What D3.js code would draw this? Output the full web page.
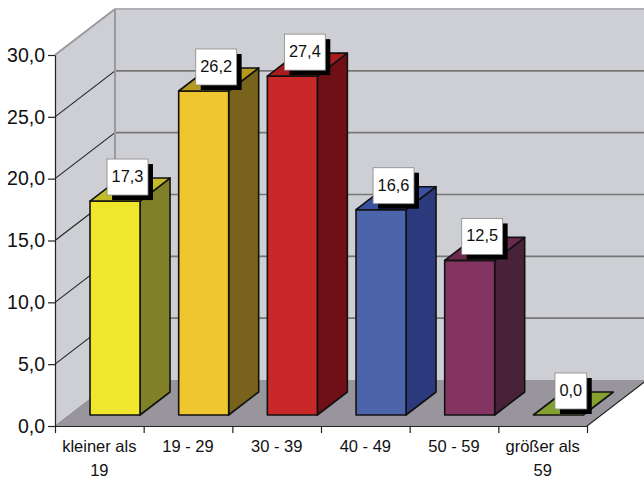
<!DOCTYPE html>
<html>
<head>
<meta charset="utf-8">
<script src="https://cdn.jsdelivr.net/npm/d3@7"></script>
<style>
html,body{margin:0;padding:0;background:#fff;}
svg{display:block;}
text{font-family:"Liberation Sans",Arial,sans-serif;fill:#111;}
</style>
</head>
<body>
<div id="chart"></div>
<script>
// Age-group shares, shown as a 3D column chart
const categories = [["kleiner als","19"],["19 - 29"],["30 - 39"],["40 - 49"],["50 - 59"],["größer als","59"]];
const values = [17.3, 26.2, 27.4, 16.6, 12.5, 0.0];
const frontColors = ["#f0e62c","#f0c630","#c82828","#4c64aa","#843460","#84a030"];
const sideColors = ["#808028","#78621c","#701016","#2a3a7c","#482238","#84a030"];
const topColors = ["#c4bc26","#b89a20","#a81c20","#3a50a0","#6a2a50","#84a030"];
const yTicks = [0,5,10,15,20,25,30];

const W = 644, H = 480;
const x0 = 55, x1 = 587, yBase = 426, yTop = 55;
const wallDx = 60, wallDy = -46;      // depth of the box
const barDx = 30, barDy = -23;        // depth of a column
const barLift = 11;                   // columns stand partway into the floor

const svg = d3.select("#chart").append("svg").attr("width", W).attr("height", H);
const y = d3.scaleLinear().domain([0,30]).range([yBase,yTop]);
const band = d3.scaleBand().domain(d3.range(categories.length)).range([x0,x1]);
const edge = d3.scaleLinear().domain([0,categories.length]).range([x0,x1]);
const barW = 50;
const barOff = band.bandwidth()*0.395;
const comma = v => d3.format(".1f")(v).replace(".", ",");
const poly = pts => pts.map(p => p.join(",")).join(" ");

const wallFill = "#cecfd4", floorFill = "#98969c", edgeGrey = "#9a9a9e";

// side wall, back wall and floor
svg.append("polygon").attr("points", poly([[x0,yBase],[x0,yTop],[x0+wallDx,yTop+wallDy],[x0+wallDx,yBase+wallDy]])).attr("fill", wallFill);
svg.append("polygon").attr("points", poly([[x0+wallDx,yTop+wallDy],[x1+wallDx,yTop+wallDy],[x1+wallDx,yBase+wallDy],[x0+wallDx,yBase+wallDy]])).attr("fill", wallFill);
svg.append("polygon").attr("points", poly([[x0,yBase],[x1,yBase],[x1+wallDx,yBase+wallDy],[x0+wallDx,yBase+wallDy]])).attr("fill", floorFill);

// grid lines across both walls
const grid = svg.append("g");
yTicks.filter(t => t > 0).forEach(t => {
  grid.append("line").attr("x1", x0).attr("y1", y(t)).attr("x2", x0+wallDx).attr("y2", y(t)+wallDy)
    .attr("stroke", t === 30 ? edgeGrey : "#222").attr("stroke-width", t === 30 ? 2 : 1.1);
  grid.append("line").attr("x1", x0+wallDx).attr("y1", y(t)+wallDy).attr("x2", x1+wallDx).attr("y2", y(t)+wallDy)
    .attr("stroke", t === 30 ? "#b0b0b4" : "#777").attr("stroke-width", t === 30 ? 2 : 1.6);
});
grid.append("line").attr("x1", x0+wallDx).attr("y1", yTop+wallDy).attr("x2", x0+wallDx).attr("y2", yBase+wallDy)
  .attr("stroke", edgeGrey).attr("stroke-width", 2);
grid.append("line").attr("x1", x0).attr("y1", yBase).attr("x2", x0+wallDx).attr("y2", yBase+wallDy)
  .attr("stroke", "#8a8a8e").attr("stroke-width", 1);

// columns
const bars = svg.append("g").attr("stroke", "#111").attr("stroke-width", 1.6).attr("stroke-linejoin", "round");
values.forEach((v,i) => {
  const l = band(i)+barOff, r = l+barW, b = yBase-barLift, t = y(v)-barLift;
  const g = bars.append("g");
  if (v > 0) {
    g.append("polygon").attr("points", poly([[r,b],[r,t],[r+barDx,t+barDy],[r+barDx,b+barDy]])).attr("fill", sideColors[i]);
    g.append("rect").attr("x", l).attr("y", t).attr("width", barW).attr("height", b-t).attr("fill", frontColors[i]);
  }
  g.append("polygon").attr("points", poly([[l,t],[r,t],[r+barDx,t+barDy],[l+barDx,t+barDy]])).attr("fill", topColors[i]);
});

// floor edges and axes
svg.append("line").attr("x1", x1).attr("y1", yBase).attr("x2", x1+wallDx).attr("y2", yBase+wallDy).attr("stroke", "#222").attr("stroke-width", 1.1);

const yAxis = svg.append("g").attr("transform", `translate(${x0},0)`)
  .call(d3.axisLeft(y).tickValues(yTicks).tickSize(7).tickSizeOuter(0).tickPadding(3).tickFormat(comma));
yAxis.selectAll("text").attr("font-size", 19.5).style("font-family", '"Liberation Sans",Arial,sans-serif').attr("fill", "#111");
yAxis.selectAll("line,path").attr("stroke", "#222").attr("stroke-width", 1.2);

const xAxis = svg.append("g").attr("transform", `translate(0,${yBase})`)
  .call(d3.axisBottom(edge).tickValues(d3.range(categories.length+1)).tickSize(7).tickSizeOuter(0).tickFormat(""));
xAxis.selectAll("line,path").attr("stroke", "#222").attr("stroke-width", 1.2);

// category labels, wrapped on two lines where needed
const catLabels = svg.append("g").attr("text-anchor", "middle").attr("font-size", 16.5);
categories.forEach((lines,i) => {
  lines.forEach((s,j) => {
    catLabels.append("text").attr("x", band(i)+band.bandwidth()/2).attr("y", 452+j*24).text(s);
  });
});

// value labels in boxes sized to their text, with a hard drop shadow
const labelH = 36, labelPad = 4.5, shadow = 5;
const labels = svg.append("g");
values.forEach((v,i) => {
  const cx = band(i)+barOff+barW/2+12.5, cy = y(v)-barLift-24;
  const g = labels.append("g");
  const txt = g.append("text").attr("x", cx).attr("y", cy+5).attr("text-anchor", "middle").attr("font-size", 16.4).text(comma(v));
  const w = txt.node().getComputedTextLength()+labelPad*2;
  g.insert("rect", "text").attr("x", cx-w/2).attr("y", cy-labelH/2).attr("width", w).attr("height", labelH)
    .attr("fill", "#fff").attr("stroke", "#888").attr("stroke-width", 0.8);
  g.insert("rect", "rect").attr("x", cx-w/2+shadow).attr("y", cy-labelH/2+shadow).attr("width", w).attr("height", labelH).attr("fill", "#000");
});
</script>
</body>
</html>
